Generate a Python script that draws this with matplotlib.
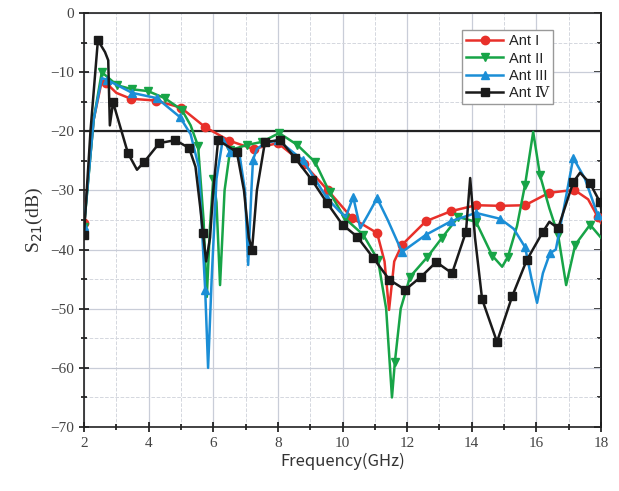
import numpy as np
import matplotlib
matplotlib.use('Agg')
from matplotlib import pyplot as plt
from matplotlib.ticker import MultipleLocator

#data (frequency GHz, S21 dB)
f1 = [2.0, 2.3, 2.55, 2.68, 3.0, 3.45, 4.22, 5.0, 5.75, 6.5, 7.25, 7.6, 8.0, 8.8, 9.55, 10.3,
      11.07, 11.3, 11.44, 11.6, 11.84, 12.58, 13.36, 14.13, 14.88, 15.65, 16.39, 17.17, 17.6, 17.9, 18.0]
s1 = [-35.5, -18, -11.5, -11.8, -13.5, -14.5, -14.8, -16.0, -19.3, -21.6, -23.0, -22.5, -22.0, -25.5, -30.0, -34.7,
      -37.2, -42, -50.2, -42, -39.2, -35.2, -33.5, -32.5, -32.6, -32.5, -30.4, -29.9, -31.5, -34.5, -35.5]
m1 = [2.0, 2.68, 3.45, 4.22, 5.0, 5.75, 6.5, 7.25, 8.0, 8.8, 9.55, 10.3, 11.07, 11.84, 12.58, 13.36,
      14.13, 14.88, 15.65, 16.39, 17.17, 17.9]

f2 = [2.0, 2.3, 2.55, 3.02, 3.49, 3.98, 4.5, 5.03, 5.3, 5.53, 5.7, 5.8, 5.9, 6.0, 6.1, 6.21, 6.35, 6.52,
      7.05, 7.5, 8.04, 8.6, 9.15, 9.6, 10.07, 10.64, 11.1, 11.35, 11.53, 11.62, 11.8, 12.09, 12.62, 13.08,
      13.58, 14.13, 14.63, 14.94, 15.12, 15.4, 15.65, 15.9, 16.11, 16.4, 16.67, 16.92, 17.2, 17.66, 18.0]
s2 = [-36.2, -18, -10.0, -12.2, -12.9, -13.2, -14.4, -16.4, -19, -22.5, -35, -48, -36, -28.0, -32, -46, -30, -23.2,
      -22.3, -21.8, -20.3, -22.3, -25.2, -30.3, -34.7, -37.5, -41.8, -50, -65, -59, -50, -44.6, -41.3, -38.0,
      -34.5, -35.3, -41, -42.9, -41.2, -36, -29, -20.1, -27.4, -33, -37.5, -46, -39.2, -35.8, -38.0]
m2 = [2.0, 2.55, 3.02, 3.49, 3.98, 4.5, 5.03, 5.53, 6.0, 6.52, 7.05, 7.5, 8.04, 8.6, 9.15, 9.6, 10.07, 10.64,
      11.1, 11.62, 12.09, 12.62, 13.08, 13.58, 14.13, 14.63, 15.12, 15.65, 16.11, 16.67, 17.2, 17.66]

f3 = [2.0, 2.3, 2.55, 2.71, 3.49, 4.26, 4.97, 5.3, 5.55, 5.75, 5.84, 5.95, 6.1, 6.3, 6.52, 6.8, 6.98, 7.08,
      7.18, 7.23, 7.35, 7.6, 8.0, 8.78, 9.52, 9.9, 10.1, 10.33, 10.55, 10.8, 11.07, 11.4, 11.84, 12.58, 13.36,
      14.13, 14.88, 15.3, 15.65, 15.85, 16.02, 16.2, 16.42, 16.6, 16.85, 17.14, 17.5, 17.9, 18.0]
s3 = [-36, -18, -11, -11.3, -13.5, -14.4, -17.6, -20.5, -26, -46.8, -60, -45, -28, -21.2, -23.5, -23.5, -30, -42.6,
      -30, -24.8, -23, -22, -21.5, -24.9, -31.3, -33.5, -34.5, -31.1, -36.4, -34, -31.3, -35, -40.4, -37.5, -35.2,
      -33.8, -34.8, -36.5, -39.6, -45, -49, -44, -40.6, -40, -33, -24.5, -28, -34.2, -35]
m3 = [2.0, 2.71, 3.49, 4.26, 4.97, 5.75, 6.52, 7.23, 8.0, 8.78, 9.52, 10.33, 11.07, 11.84, 12.58, 13.36,
      14.13, 14.88, 15.65, 16.42, 17.14, 17.9]

f4 = [2.0, 2.2, 2.43, 2.65, 2.75, 2.8, 2.9, 3.36, 3.64, 3.86, 4.33, 4.82, 5.25, 5.45, 5.6, 5.68, 5.78, 5.9,
      6.0, 6.15, 6.73, 6.95, 7.1, 7.2, 7.35, 7.6, 8.07, 8.53, 9.06, 9.52, 10.0, 10.45, 10.95, 11.45, 11.94,
      12.43, 12.9, 13.39, 13.82, 13.95, 14.1, 14.32, 14.78, 15.25, 15.7, 16.2, 16.4, 16.67, 17.14, 17.35,
      17.66, 17.97, 18.0]
s4 = [-37.5, -20, -4.6, -6.6, -8, -19, -15.1, -23.7, -26.5, -25.2, -22.0, -21.5, -22.8, -26, -33, -37.2, -42, -38,
      -30, -21.5, -23.5, -30, -38, -40, -30, -21.8, -21.5, -24.5, -28.3, -32.1, -35.8, -37.8, -41.4, -45.1, -46.8,
      -44.6, -42.1, -44.0, -37.0, -27.9, -38, -48.4, -55.6, -47.9, -41.8, -37.0, -35.3, -36.4, -28.6, -27.0,
      -28.8, -32, -33]
m4 = [2.0, 2.43, 2.9, 3.36, 3.86, 4.33, 4.82, 5.25, 5.68, 6.15, 6.73, 7.2, 7.6, 8.07, 8.53, 9.06, 9.52, 10.0,
      10.45, 10.95, 11.45, 11.94, 12.43, 12.9, 13.39, 13.82, 14.32, 14.78, 15.25, 15.7, 16.2, 16.67, 17.14,
      17.66, 17.97]

labels = ['Ant I', 'Ant II', 'Ant III', 'Ant \u2163']
colors = ['#e8302a', '#17a447', '#1b8ed6', '#1a1a1a']
markers = ['o', 'v', '^', 's']

fig = plt.figure(figsize=(6.19, 4.91), dpi=100)
ax = fig.add_axes([0.1357, 0.1303, 0.8353, 0.8432])

series = [(f1, s1, m1), (f2, s2, m2), (f3, s3, m3), (f4, s4, m4)]
for (f, s, m), lab, c, mk in zip(series, labels, colors, markers):
    idx = [f.index(v) for v in m]
    ax.plot(f, s, color=c, lw=1.8, marker=mk, markersize=6, markevery=idx, label=lab, zorder=3)

ax.axhline(-20, color='#222222', lw=1.6, zorder=2)

ax.set_xlim(2, 18)
ax.set_ylim(-70, 0)
ax.xaxis.set_major_locator(MultipleLocator(2))
ax.xaxis.set_minor_locator(MultipleLocator(1))
ax.yaxis.set_major_locator(MultipleLocator(10))
ax.yaxis.set_minor_locator(MultipleLocator(5))
ax.grid(True, which='major', color='#c9cdd8', lw=0.9, zorder=0)
ax.grid(True, which='minor', color='#d4d7de', lw=0.7, ls='--', zorder=0)
ax.set_axisbelow(True)

ax.tick_params(which='both', direction='inout', top=False, right=False, labelsize=11,
               labelcolor='#444444', width=1.1)
ax.tick_params(which='major', length=7)
ax.tick_params(which='minor', length=4)
for sp in ax.spines.values():
    sp.set_linewidth(1.2)
    sp.set_color('#222222')
for lab in ax.get_xticklabels() + ax.get_yticklabels():
    lab.set_family('Liberation Serif')

#right side ticks point inward only
rax = ax.secondary_yaxis('right')
rax.yaxis.set_major_locator(MultipleLocator(10))
rax.yaxis.set_minor_locator(MultipleLocator(5))
rax.tick_params(which='both', direction='in', labelright=False, width=1.1)
rax.tick_params(which='major', length=5)
rax.tick_params(which='minor', length=3)
rax.spines['right'].set_linewidth(1.2)

ax.set_ylabel('S$_{21}$(dB)', family='Liberation Serif', fontsize=14, color='#333333', labelpad=4)
ax.set_xlabel('Frequency(GHz)', family=['Noto Sans CJK SC', 'DejaVu Sans'], fontsize=12,
              color='#333333', labelpad=2)

leg = ax.legend(loc='upper left', bbox_to_anchor=(0.731, 0.959), fontsize=10.5, handlelength=2.5,
                frameon=True, fancybox=False, edgecolor='#999999', framealpha=1,
                borderpad=0.3, labelspacing=0.22, handletextpad=0.4, borderaxespad=0)
for t in leg.get_texts():
    t.set_family(['Liberation Sans', 'DejaVu Serif'])
    t.set_color('#222222')

plt.savefig('out.png', dpi=100)
